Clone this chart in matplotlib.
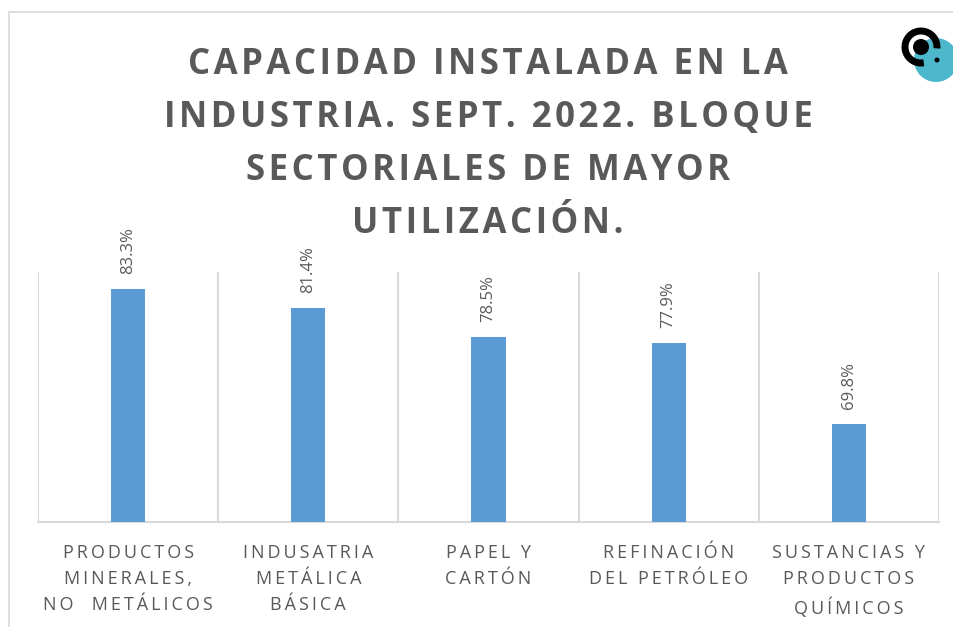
import matplotlib.pyplot as plt
from matplotlib.patches import Circle, Rectangle, Arc

categories = [
    "PRODUCTOS\nMINERALES,\nNO  METÁLICOS",
    "INDUSATRIA\nMETÁLICA\nBÁSICA",
    "PAPEL Y\nCARTÓN",
    "REFINACIÓN\nDEL PETRÓLEO",
    "SUSTANCIAS Y\nPRODUCTOS\nQUÍMICOS",
]
values = [83.3, 81.4, 78.5, 77.9, 69.8]
title = ("CAPACIDAD INSTALADA EN LA\nINDUSTRIA. SEPT. 2022. BLOQUE\n"
         "SECTORIALES DE MAYOR\nUTILIZACIÓN.")

BAR = "#5B9BD5"
TXT = "#595959"
GRID = "#D9D9D9"
W, H = 954, 627


def spaced(s, sep="\u2009"):
    # fake letter spacing: put a thin space between letters
    return "\n".join(sep.join(line) for line in s.split("\n"))


fig = plt.figure(figsize=(W / 100, H / 100), dpi=100)
fig.patch.set_facecolor("white")

# chart frame
fig.patches.append(Rectangle((9 / W, -0.1), 1.2, 1 - 12 / H + 0.1,
                             transform=fig.transFigure, fill=False,
                             edgecolor=GRID, lw=1.2))

ax = fig.add_axes([38 / W, (H - 522) / H, (939 - 38) / W, 250 / H])
x = range(len(values))
ax.bar(x, values, width=0.19, color=BAR, zorder=3)
ax.set_ylim(60, 85)
ax.set_xlim(-0.5, len(values) - 0.5)
for b in [i - 0.5 for i in range(len(values) + 1)]:
    ax.axvline(b, color=GRID, lw=1.5, zorder=1)
for s in ["top", "right", "left"]:
    ax.spines[s].set_visible(False)
ax.spines["bottom"].set_color(GRID)
ax.spines["bottom"].set_linewidth(1.5)
ax.set_xticks([])
ax.set_yticks([])

for i, v in enumerate(values):
    ax.annotate(f"{v:.1f}%", (i, v), xytext=(0, 15), textcoords="offset pixels",
                rotation=90, ha="center", va="bottom", color=TXT,
                fontsize=12, family=["Open Sans", "DejaVu Sans"])

for i, c in enumerate(categories):
    ax.text(i, -0.088, spaced(c), transform=ax.get_xaxis_transform(),
            ha="center", va="top", color=TXT, fontsize=13, linespacing=1.57,
            family=["Open Sans", "DejaVu Sans"])

fig.text(488 / W, 1 - 47 / H, spaced(title, "\u200a"), ha="center", va="top",
         color=TXT, fontsize=25, fontweight="bold", linespacing=1.63,
         family=["Open Sans", "DejaVu Sans"])

# logo, top right
lx = fig.add_axes([0, 0, 1, 1], zorder=5)
lx.set_xlim(0, W)
lx.set_ylim(H, 0)
lx.axis("off")
lx.add_patch(Circle((936, 60), 22, color="#4DB8CC", lw=0))
lx.add_patch(Arc((921, 47), 32, 32, theta1=80, theta2=5, color="black", lw=5))
lx.add_patch(Circle((921, 47), 8, color="black", lw=0))
lx.add_patch(Circle((937, 60), 2.5, color="black", lw=0))

fig.savefig("out.png", dpi=100)
